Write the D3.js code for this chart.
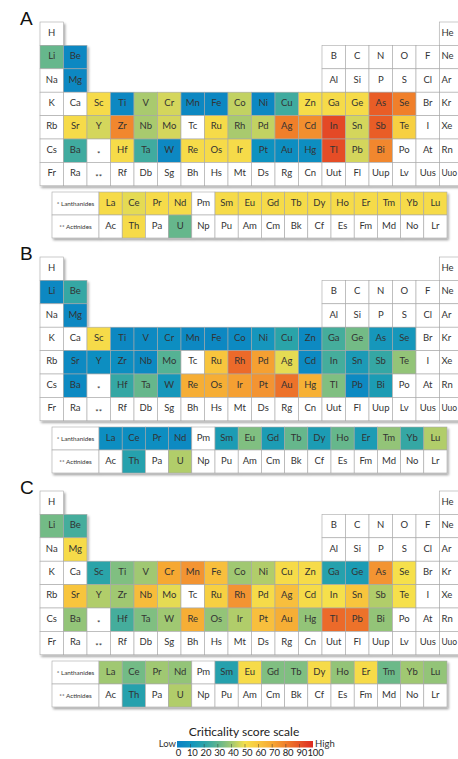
<!DOCTYPE html>
<html>
<head>
<meta charset="utf-8">
<script src="https://cdn.jsdelivr.net/npm/d3@7"></script>
<style>
  body { margin: 0; background: #fff; }
  svg { display: block; font-family: "Lato", "Open Sans", sans-serif; }
  .sym { font-size: 9.5px; fill: #333; text-anchor: middle; }
  .panel-label { font-size: 19px; fill: #111; font-family: "Liberation Sans", Arial, sans-serif; }
</style>
</head>
<body>
<div id="chart"></div>
<script>
// periodic table layout
const period1 = [["H", 1], ["He", 18]]
const period2 = [["Li", 1], ["Be", 2], ["B", 13], ["C", 14], ["N", 15], ["O", 16], ["F", 17], ["Ne", 18]]
const period3 = [["Na", 1], ["Mg", 2], ["Al", 13], ["Si", 14], ["P", 15], ["S", 16], ["Cl", 17], ["Ar", 18]]
const period4 = ["K","Ca","Sc","Ti","V","Cr","Mn","Fe","Co","Ni","Cu","Zn","Ga","Ge","As","Se","Br","Kr"]
const period5 = ["Rb","Sr","Y","Zr","Nb","Mo","Tc","Ru","Rh","Pd","Ag","Cd","In","Sn","Sb","Te","I","Xe"]
const period6 = ["Cs","Ba","*","Hf","Ta","W","Re","Os","Ir","Pt","Au","Hg","Tl","Pb","Bi","Po","At","Rn"]
const period7 = ["Fr","Ra","**","Rf","Db","Sg","Bh","Hs","Mt","Ds","Rg","Cn","Uut","Fl","Uup","Lv","Uus","Uuo"]
const lanthanides = ["La","Ce","Pr","Nd","Pm","Sm","Eu","Gd","Tb","Dy","Ho","Er","Tm","Yb","Lu"]
const actinides = ["Ac","Th","Pa","U","Np","Pu","Am","Cm","Bk","Cf","Es","Fm","Md","No","Lr"]

// criticality scores (elements not listed = not assessed)
const scoresA = {
  Li: 31, Be: 4, Mg: 4, Sc: 52, Ti: 4, V: 41, Cr: 46, Mn: 4, Fe: 4, Co: 44, Ni: 4, Cu: 24, Zn: 51,
  Ga: 52, Ge: 52, As: 88, Se: 80, Sr: 52, Y: 46, Zr: 78, Nb: 41, Mo: 46, Ru: 52, Rh: 41, Pd: 44,
  Ag: 80, Cd: 76, In: 93, Sn: 46, Sb: 88, Te: 56, Ba: 24, Hf: 52, Ta: 24, W: 4, Re: 52, Os: 52,
  Ir: 52, Pt: 9, Au: 7, Hg: 7, Tl: 92, Pb: 46, Bi: 78,
  La: 52, Ce: 48, Pr: 52, Nd: 52, Sm: 52, Eu: 52, Gd: 52, Tb: 52, Dy: 52, Ho: 52, Er: 52, Tm: 52, Yb: 52, Lu: 52,
  Th: 52, U: 31
}
const scoresB = {
  Li: 4, Be: 22, Mg: 4, Sc: 52, Ti: 4, V: 5, Cr: 7, Mn: 4, Fe: 4, Co: 5, Ni: 11, Cu: 20, Zn: 5,
  Ga: 25, Ge: 33, As: 12, Se: 12, Sr: 5, Y: 7, Zr: 7, Nb: 5, Mo: 28, Ru: 60, Rh: 85, Pd: 72,
  Ag: 48, Cd: 5, In: 25, Sn: 14, Sb: 22, Te: 38, Ba: 5, Hf: 22, Ta: 31, W: 12, Re: 68, Os: 68,
  Ir: 72, Pt: 75, Au: 83, Hg: 67, Tl: 35, Pb: 5, Bi: 15,
  La: 7, Ce: 7, Pr: 7, Nd: 5, Sm: 15, Eu: 35, Gd: 15, Tb: 31, Dy: 15, Ho: 31, Er: 15, Tm: 38, Yb: 22, Lu: 42,
  Th: 18, U: 42
}
const scoresC = {
  Li: 33, Be: 25, Mg: 52, Sc: 20, Ti: 35, V: 40, Cr: 70, Mn: 75, Fe: 62, Co: 40, Ni: 42, Cu: 52, Zn: 52,
  Ga: 18, Ge: 15, As: 75, Se: 50, Sr: 60, Y: 42, Zr: 40, Nb: 63, Mo: 48, Ru: 56, Rh: 75, Pd: 52,
  Ag: 62, Cd: 52, In: 50, Sn: 60, Sb: 42, Te: 50, Ba: 38, Hf: 25, Ta: 35, W: 40, Re: 68, Os: 38,
  Ir: 42, Pt: 62, Au: 68, Hg: 38, Tl: 85, Pb: 83, Bi: 38,
  La: 40, Ce: 33, Pr: 40, Nd: 38, Sm: 18, Eu: 52, Gd: 35, Tb: 35, Dy: 52, Ho: 38, Er: 52, Tm: 32, Yb: 40, Lu: 38,
  Th: 18, U: 42
}

const panelLabels = ["A", "B", "C"]
const panelScores = [scoresA, scoresB, scoresC]
const legendTicks = [0, 10, 20, 30, 40, 50, 60, 70, 80, 90, 100]
const legendColors = ["#0b80c4", "#1194bf", "#2ba4a9", "#5fb58f", "#a0c872", "#f6e04b",
                      "#f8c53e", "#f6a833", "#f07f2c", "#e75527", "#dd2b21"]

const width = 458, height = 759
const cellW = 23.5, cellH = 23.4
const tableLeft = 40
const panelTops = [22, 257, 491]

const color = d3.scaleLinear().domain(legendTicks).range(legendColors)

const svg = d3.select("#chart").append("svg")
  .attr("width", width).attr("height", height)

const defs = svg.append("defs")
defs.append("filter").attr("id", "shadow")
  .attr("x", "-5%").attr("y", "-5%").attr("width", "115%").attr("height", "120%")
  .append("feDropShadow")
  .attr("dx", 1.5).attr("dy", 2).attr("stdDeviation", 1.2)
  .attr("flood-color", "#000").attr("flood-opacity", 0.35)

// flatten the main table
const mainCells = []
;[period1, period2, period3].forEach((row, i) => {
  row.forEach(([s, g]) => mainCells.push({ s: s, g: g, p: i + 1 }))
})
;[period4, period5, period6, period7].forEach((row, i) => {
  row.forEach((s, j) => mainCells.push({ s: s, g: j + 1, p: i + 4 }))
})

panelTops.forEach((top, k) => {
  const scores = panelScores[k]
  const g = svg.append("g")

  const x = d3.scaleBand().domain(d3.range(1, 19)).range([tableLeft, tableLeft + 18 * cellW])
  const y = d3.scaleBand().domain(d3.range(1, 8)).range([top, top + 7 * cellH])

  g.append("text").attr("class", "panel-label")
    .attr("x", 20).attr("y", top + 3).text(panelLabels[k])

  const table = g.append("g").attr("filter", "url(#shadow)")
  const cell = table.selectAll(".cell")
    .data(mainCells)
    .enter().append("g")
    .attr("transform", d => "translate(" + x(d.g) + "," + y(d.p) + ")")

  cell.append("rect")
    .attr("width", x.bandwidth()).attr("height", y.bandwidth())
    .attr("fill", d => scores[d.s] != null ? color(scores[d.s]) : "#fff")
    .attr("stroke", "#a8a8a8").attr("stroke-width", 0.6)

  // last column runs off the page edge, keep its labels inside
  g.selectAll(".sym")
    .data(mainCells)
    .enter().append("text")
    .attr("class", "sym")
    .attr("x", d => d.g == 18 ? x(d.g) + 2 : x(d.g) + x.bandwidth() / 2)
    .attr("y", d => y(d.p) + y.bandwidth() / 2 + (d.s.startsWith("*") ? 6 : 2))
    .style("text-anchor", d => d.g == 18 ? "start" : null)
    .style("font-size", d => d.s.startsWith("*") ? "8px" : (d.s == "Uuo" ? "8.5px" : null))
    .text(d => d.s)

  // f-block
  const fTop = top + 170
  const fH = 23
  const labelLeft = 52, labelW = 47
  const fx = d3.scaleBand().domain(d3.range(15)).range([labelLeft + labelW, 447])
  const fy = d3.scaleBand().domain([0, 1]).range([fTop, fTop + 2 * fH])
  const fRows = [lanthanides, actinides]
  const fCells = []
  fRows.forEach((row, r) => row.forEach((s, j) => fCells.push({ s: s, i: j, r: r })))

  const fTable = g.append("g").attr("filter", "url(#shadow)")
  fTable.selectAll(".flabel")
    .data(["* Lanthanides", "** Actinides"])
    .enter().append("rect")
    .attr("x", labelLeft).attr("y", (d, r) => fy(r))
    .attr("width", labelW).attr("height", fy.bandwidth())
    .attr("fill", "#fff").attr("stroke", "#a8a8a8").attr("stroke-width", 0.6)

  fTable.selectAll(".fcell")
    .data(fCells)
    .enter().append("rect")
    .attr("x", d => fx(d.i)).attr("y", d => fy(d.r))
    .attr("width", fx.bandwidth()).attr("height", fy.bandwidth())
    .attr("fill", d => scores[d.s] != null ? color(scores[d.s]) : "#fff")
    .attr("stroke", "#a8a8a8").attr("stroke-width", 0.6)

  g.selectAll(".flabeltext")
    .data(["* Lanthanides", "** Actinides"])
    .enter().append("text")
    .attr("x", labelLeft + labelW / 2).attr("y", (d, r) => fy(r) + fy.bandwidth() / 2 + 2.5)
    .attr("text-anchor", "middle").attr("fill", "#333")
    .style("font-size", "6.3px")
    .text(d => d)

  g.selectAll(".fsym")
    .data(fCells)
    .enter().append("text")
    .attr("class", "sym")
    .attr("x", d => fx(d.i) + fx.bandwidth() / 2)
    .attr("y", d => fy(d.r) + fy.bandwidth() / 2 + 2)
    .text(d => d.s)
})

// legend
const lx = d3.scaleLinear().domain([0, 100]).range([177, 313])
const legend = svg.append("g")

legend.append("text")
  .attr("x", 244).attr("y", 736)
  .attr("text-anchor", "middle").attr("fill", "#222")
  .style("font-size", "12px")
  .text("Criticality score scale")

const grad = defs.append("linearGradient").attr("id", "scale-grad")
grad.selectAll("stop")
  .data(legendTicks)
  .enter().append("stop")
  .attr("offset", d => d + "%")
  .attr("stop-color", d => color(d))

legend.append("rect")
  .attr("x", lx(0)).attr("y", 741)
  .attr("width", lx(100) - lx(0)).attr("height", 6.5)
  .attr("fill", "url(#scale-grad)")

legend.selectAll(".tickmark")
  .data(legendTicks.slice(1, -1))
  .enter().append("line")
  .attr("x1", d => lx(d)).attr("x2", d => lx(d))
  .attr("y1", 744).attr("y2", 747.5)
  .attr("stroke", "#333").attr("stroke-width", 0.7).attr("opacity", 0.7)

legend.append("text")
  .attr("x", lx(0) - 1).attr("y", 747)
  .attr("text-anchor", "end").attr("fill", "#333")
  .style("font-size", "9.5px")
  .text("Low")

legend.append("text")
  .attr("x", lx(100) + 2).attr("y", 747)
  .attr("fill", "#333")
  .style("font-size", "9.5px")
  .text("High")

// tick labels spread slightly wider than the bar, as in the original
const lxLabels = d3.scaleLinear().domain([0, 100]).range([178, 315])
const axis = legend.append("g")
  .attr("transform", "translate(0,749.5)")
  .call(d3.axisBottom(lxLabels).tickValues(legendTicks).tickSize(0).tickPadding(0))
axis.select(".domain").remove()
axis.selectAll("text")
  .attr("fill", "#222")
  .style("font-family", "Lato, sans-serif")
  .style("font-size", "9.5px")
  .style("letter-spacing", "-0.2px")
</script>
</body>
</html>
